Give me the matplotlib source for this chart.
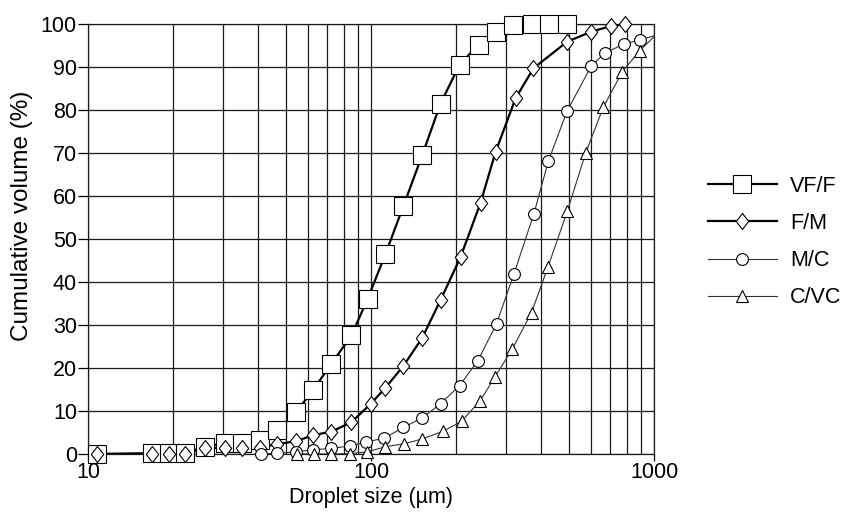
import numpy as np
import matplotlib
matplotlib.use('Agg')
import matplotlib.pyplot as plt
from matplotlib.lines import Line2D
from matplotlib.ticker import FixedLocator, NullFormatter, FixedFormatter

plt.rcParams['font.family'] = ['Liberation Sans', 'DejaVu Sans']

font_label = 15.5
font_ylabel = 17.5
font_tick = 15.5

# droplet size (um) and cumulative volume (%)
vff_size = [10.8, 16.9, 19.3, 22.1, 26.0, 30.4, 35.1, 40.4, 46.7, 54.5, 62.6, 72.5, 85.3,
            97.2, 112.5, 130.2, 151.7, 176.1, 205.5, 239.9, 275.4, 318.8, 372.1, 427.2, 493.6]
vff_cum = [0, 0.2, 0.3, 0.3, 1.7, 2.5, 2.5, 3.2, 5.5, 9.8, 15.0, 21.0, 27.6,
           36.0, 46.5, 57.7, 69.5, 81.5, 90.5, 95.2, 98.2, 99.8, 99.9, 100, 100]

fm_size = [10.8, 16.9, 19.3, 22.1, 26.0, 30.4, 35.1, 40.4, 46.7, 54.5, 62.6, 72.5, 85.3,
           99.6, 112.1, 130.2, 151.7, 176.1, 207.2, 243.8, 275.4, 324.1, 375.1, 493.6, 600, 702, 793]
fm_cum = [0, 0, 0, 0, 1.4, 1.4, 1.4, 1.5, 2.3, 3.0, 4.4, 5.2, 7.4,
          11.6, 15.3, 20.5, 27.0, 35.8, 45.8, 58.4, 70.2, 82.7, 89.7, 95.9, 98.2, 99.5, 100]

mc_size = [40.7, 46.7, 54.5, 62.6, 72.5, 84.6, 96.4, 111.6, 130.2, 151.7, 176.1, 205.5,
           238.5, 277.7, 320.1, 376.1, 423.8, 492.8, 600, 668.7, 780.3, 889, 1020]
mc_cum = [0, 0.2, 0.5, 1.0, 1.3, 1.9, 2.8, 3.7, 6.2, 8.4, 11.7, 15.9,
          21.7, 30.3, 41.9, 55.8, 68.2, 79.7, 90.2, 93.2, 95.3, 96.3, 97.4]

cvc_size = [54.9, 62.8, 72.5, 84.6, 97.0, 112.5, 131.3, 151.7, 179.9, 208.9, 243.2,
            273.6, 316.2, 369.1, 422.1, 493.6, 572.8, 661.6, 772.2, 891, 1020]
cvc_cum = [0, 0, 0, 0.1, 0.5, 1.7, 2.4, 3.5, 5.3, 7.6, 12.4,
           17.8, 24.5, 32.9, 43.5, 56.4, 69.9, 80.6, 88.9, 93.8, 97.6]

names = ['VF/F', 'F/M', 'M/C', 'C/VC']
sizes = [vff_size, fm_size, mc_size, cvc_size]
cums = [vff_cum, fm_cum, mc_cum, cvc_cum]

diamond = [(-0.78, 0), (0, 1), (0.78, 0), (0, -1), (-0.78, 0)]
markers = ['s', diamond, 'o', '^']
msizes = [12.5, 11.5, 8.5, 9]
lws = [1.6, 1.6, 0.8, 0.8]
lcolors = ['black', 'black', '#333333', '#333333']

fig = plt.figure(figsize=(8.48, 5.2), dpi=100)
ax = fig.add_axes([88/848, 1-454/520, (654-88)/848, (454-24)/520])
ax.set_xscale('log')
ax.set_xlim(10, 1000)
ax.set_ylim(0, 100)

handles = []
for i in range(4):
    x = np.array(sizes[i])
    y = np.array(cums[i])
    inside = x <= 1000
    # line clipped to the axes, markers drawn unclipped like the original
    ax.plot(x, y, color=lcolors[i], lw=lws[i], zorder=3)
    ax.plot(x[inside], y[inside], ls='none', marker=markers[i], ms=msizes[i],
            mfc='white', mec='black', mew=0.8, zorder=4, clip_on=False)
    handles.append(Line2D([], [], color=lcolors[i], lw=lws[i], marker=markers[i],
                          ms=msizes[i], mfc='white', mec='black', mew=0.8))

ax.set_yticks(np.arange(0, 101, 10))
ax.xaxis.set_major_locator(FixedLocator([10, 100, 1000]))
ax.xaxis.set_major_formatter(FixedFormatter(['10', '100', '1000']))
minor = [m*d for d in [10, 100] for m in range(2, 10)]
ax.xaxis.set_minor_locator(FixedLocator(minor))
ax.xaxis.set_minor_formatter(NullFormatter())
ax.grid(True, which='both', color='#1a1a1a', lw=0.9)
ax.set_axisbelow(True)
for s in ax.spines.values():
    s.set_color('#1a1a1a')
    s.set_linewidth(0.9)
ax.tick_params(axis='y', length=7, width=0.9, pad=1, labelsize=font_tick)
ax.tick_params(axis='x', which='major', length=5, width=0.9, pad=1, labelsize=font_tick)
ax.tick_params(axis='x', which='minor', length=0)
ax.set_xlabel('Droplet size (\u00b5m)', fontsize=font_label, labelpad=3)
ax.set_ylabel('Cumulative volume (%)', fontsize=font_ylabel)
ax.yaxis.set_label_coords(-0.097, 0.555)

fig.legend(handles, names, loc='center left', bbox_to_anchor=(708/848, 1-242/520),
           frameon=False, fontsize=font_label, handlelength=3.2, handletextpad=0.6,
           labelspacing=0.75, borderpad=0, borderaxespad=0)

plt.savefig('out.png', dpi=100)
